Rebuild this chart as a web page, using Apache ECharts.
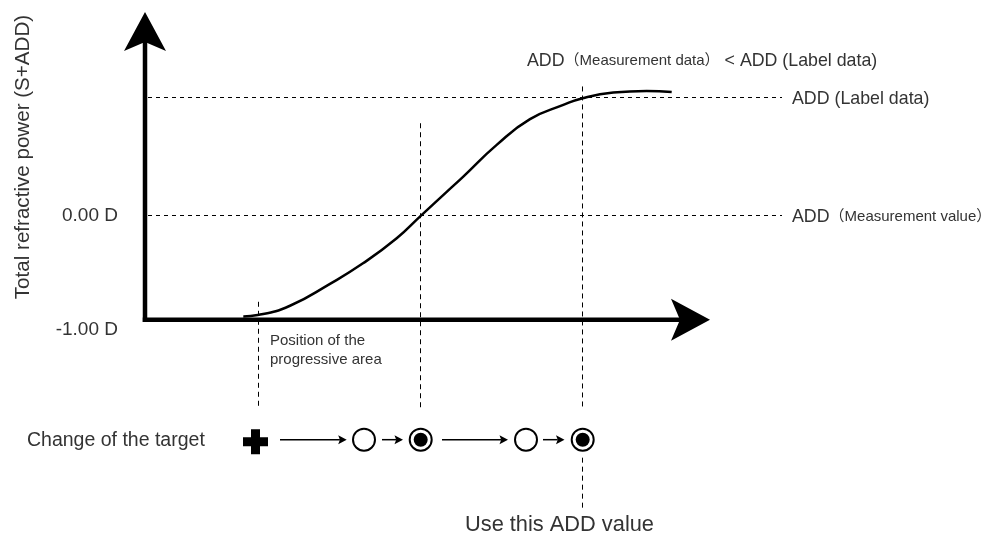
<!DOCTYPE html>
<html>
<head>
<meta charset="utf-8">
<script src="https://cdn.jsdelivr.net/npm/echarts@6/dist/echarts.min.js"></script>
<style>
  html, body { margin: 0; padding: 0; background: #fff; }
  #chart { width: 991px; height: 538px; }
</style>
</head>
<body>
<div id="chart"></div>
<script>
// position along the lens (arbitrary units) vs total refractive power (D)
const curveX = [9.83, 11.27, 14.5, 18.5, 21.8, 25.17, 27.57, 30.17, 31.83, 35.17, 38.5, 41.83, 43.77, 46.83, 50.17, 52.67];
const curveY = [-0.968, -0.955, -0.865, -0.654, -0.457, -0.216, 0, 0.231, 0.378, 0.683, 0.93, 1.067, 1.132, 1.186, 1.202, 1.192];

// y axis ticks
const tickValues = [-1, 0];
const tickLabels = ['-1.00 D', '0.00 D'];

// horizontal reference levels
const levelValues = [1.135, 0];
const levelLabels = ['ADD (Label data)', 'ADD（Measurement value）'];
const levelStart = 0.3;
const levelEnd = 63.7;

// vertical guides
const guideX = [11.3, 27.57, 43.77, 43.77];
const guideFrom = [-0.827, 0.891, 1.245, -2.327];
const guideTo = [-1.846, -1.846, -1.846, -2.827];

// change of the target
const targetRowY = -2.154;
const plusX = [11.05];
const circleX = [21.9, 27.57, 38.1, 43.77];
const filledX = [27.57, 43.77];
const stepFrom = [13.5, 23.7, 29.7, 39.8];
const stepTo = [20.17, 25.8, 36.3, 41.95];

// axis frame
const origin = [0, -1];
const yAxisTop = 1.962;
const xAxisEnd = 56.5;

const FONT = "'Liberation Sans', Arial, 'Noto Sans CJK SC', sans-serif";
const TEXT = '#333';

function richify(str) {
  return str.split(/(（[^）]*）)/).filter(Boolean)
    .map(s => (s.charAt(0) === '（' ? '{s|' + s + '}' : '{n|' + s + '}')).join('');
}
const richStyles = {
  n: { fontSize: 17.8, fontFamily: FONT, fill: TEXT },
  s: { fontSize: 15, fontFamily: FONT, fill: TEXT }
};

function snap(v) { return Math.round(v - 0.5) + 0.5; }

function arrowRender(lineWidth, headW, headL, notch, cap) {
  return function (params, api) {
    const a = api.coord([api.value(0), api.value(1)]);
    const b = api.coord([api.value(2), api.value(3)]);
    const dx = b[0] - a[0], dy = b[1] - a[1];
    const len = Math.hypot(dx, dy);
    const ux = dx / len, uy = dy / len;
    const nx = -uy, ny = ux;
    const bx = b[0] - ux * headL, by = b[1] - uy * headL;
    const mx = b[0] - ux * headL * notch, my = b[1] - uy * headL * notch;
    return {
      type: 'group',
      children: [
        {
          type: 'line',
          shape: { x1: a[0], y1: a[1], x2: mx, y2: my },
          style: { stroke: '#000', lineWidth: lineWidth, lineCap: cap }
        },
        {
          type: 'polygon',
          shape: {
            points: [
              [b[0], b[1]],
              [bx + nx * headW / 2, by + ny * headW / 2],
              [mx, my],
              [bx - nx * headW / 2, by - ny * headW / 2]
            ]
          },
          style: { fill: '#000' }
        }
      ]
    };
  };
}

const axisData = [
  [origin[0], origin[1], origin[0], yAxisTop],
  [origin[0], origin[1], xAxisEnd, origin[1]]
];
const stepData = stepFrom.map((x, i) => [x, targetRowY, stepTo[i], targetRowY]);
const guideData = guideX.map((x, i) => [x, guideFrom[i], x, guideTo[i]]);
const levelData = levelValues.map((y, i) => [levelStart, y, levelEnd, y, i]);

let chartDom = document.getElementById('chart');
let myChart = echarts.init(chartDom);

let option = {
  animation: false,
  grid: { left: 145, top: 8, width: 640, height: 530.4, containLabel: false },
  xAxis: {
    type: 'value',
    min: 0,
    max: 64,
    show: false
  },
  yAxis: {
    type: 'value',
    min: -3.1,
    max: 2,
    axisLine: { show: false },
    axisTick: { show: false },
    splitLine: { show: false },
    axisLabel: {
      customValues: tickValues,
      margin: 27,
      fontSize: 19,
      fontFamily: FONT,
      color: TEXT,
      formatter: function (v) {
        const i = tickValues.indexOf(v);
        return v < 0 ? '{lo|' + tickLabels[i] + '}' : tickLabels[i];
      },
      rich: {
        lo: { fontSize: 19, fontFamily: FONT, color: TEXT, padding: [20, 0, 0, 0] }
      }
    }
  },
  graphic: [
    {
      type: 'text', x: 23, y: 157, rotation: Math.PI / 2,
      style: {
        text: 'Total refractive power (S+ADD)', font: '20.6px ' + FONT, fill: TEXT,
        align: 'center', verticalAlign: 'middle', textAlign: 'center', textVerticalAlign: 'middle'
      }
    },
    {
      type: 'text', x: 527, y: 61,
      style: {
        text: richify('ADD（Measurement data） < ADD (Label data)'), rich: richStyles,
        align: 'left', verticalAlign: 'middle', textAlign: 'left', textVerticalAlign: 'middle'
      }
    },
    {
      type: 'text', x: 270, y: 331,
      style: {
        text: 'Position of the\nprogressive area', font: '15px ' + FONT, fill: TEXT, lineHeight: 19,
        align: 'left', verticalAlign: 'top', textAlign: 'left', textVerticalAlign: 'top'
      }
    },
    {
      type: 'text', x: 27, y: 441,
      style: {
        text: 'Change of the target', font: '19.5px ' + FONT, fill: TEXT,
        align: 'left', verticalAlign: 'middle', textAlign: 'left', textVerticalAlign: 'middle'
      }
    },
    {
      type: 'text', x: 465, y: 525,
      style: {
        text: 'Use this ADD value', font: '21.8px ' + FONT, fill: TEXT,
        align: 'left', verticalAlign: 'middle', textAlign: 'left', textVerticalAlign: 'middle'
      }
    }
  ],
  series: [
    {
      name: 'levels',
      type: 'custom',
      data: levelData,
      renderItem: function (params, api) {
        const a = api.coord([api.value(0), api.value(1)]);
        const b = api.coord([api.value(2), api.value(3)]);
        const y = snap(a[1]);
        return {
          type: 'group',
          children: [
            {
              type: 'line',
              shape: { x1: a[0], y1: y, x2: b[0], y2: y },
              style: { stroke: '#000', lineWidth: 1, lineDash: [4, 4] }
            },
            {
              type: 'text',
              x: b[0] + 10, y: b[1] + 1,
              style: {
                text: richify(levelLabels[api.value(4)]), rich: richStyles,
                align: 'left', verticalAlign: 'middle', textAlign: 'left', textVerticalAlign: 'middle'
              }
            }
          ]
        };
      }
    },
    {
      name: 'guides',
      type: 'custom',
      data: guideData,
      renderItem: function (params, api) {
        const a = api.coord([api.value(0), api.value(1)]);
        const b = api.coord([api.value(2), api.value(3)]);
        const x = snap(a[0]);
        return {
          type: 'line',
          shape: { x1: x, y1: a[1], x2: x, y2: b[1] },
          style: { stroke: '#000', lineWidth: 1, lineDash: [5, 4] }
        };
      }
    },
    {
      name: 'power',
      type: 'line',
      data: curveX.map((x, i) => [x, curveY[i]]),
      smooth: 0.5,
      symbol: 'none',
      lineStyle: { color: '#000', width: 2.5 },
      z: 3
    },
    {
      name: 'axes',
      type: 'custom',
      data: axisData,
      renderItem: arrowRender(4.5, 42, 39, 0.77, 'square'),
      z: 4
    },
    {
      name: 'steps',
      type: 'custom',
      data: stepData,
      renderItem: arrowRender(1.5, 9, 8.5, 0.8, 'butt'),
      z: 4
    },
    {
      name: 'start',
      type: 'scatter',
      data: plusX.map(x => [x, targetRowY]),
      symbol: 'path://M8,0H17V8H25V17H17V25H8V17H0V8H8Z',
      symbolSize: 25,
      symbolOffset: [0, 2],
      itemStyle: { color: '#000', opacity: 1 },
      z: 5
    },
    {
      name: 'targets',
      type: 'scatter',
      data: circleX.map(x => [x, targetRowY]),
      symbol: 'circle',
      symbolSize: 22,
      itemStyle: { color: '#fff', borderColor: '#000', borderWidth: 2, opacity: 1 },
      z: 5
    },
    {
      name: 'fixed',
      type: 'scatter',
      data: filledX.map(x => [x, targetRowY]),
      symbol: 'circle',
      symbolSize: 14,
      itemStyle: { color: '#000', opacity: 1 },
      z: 6
    }
  ]
};

myChart.setOption(option, true);
</script>
</body>
</html>
